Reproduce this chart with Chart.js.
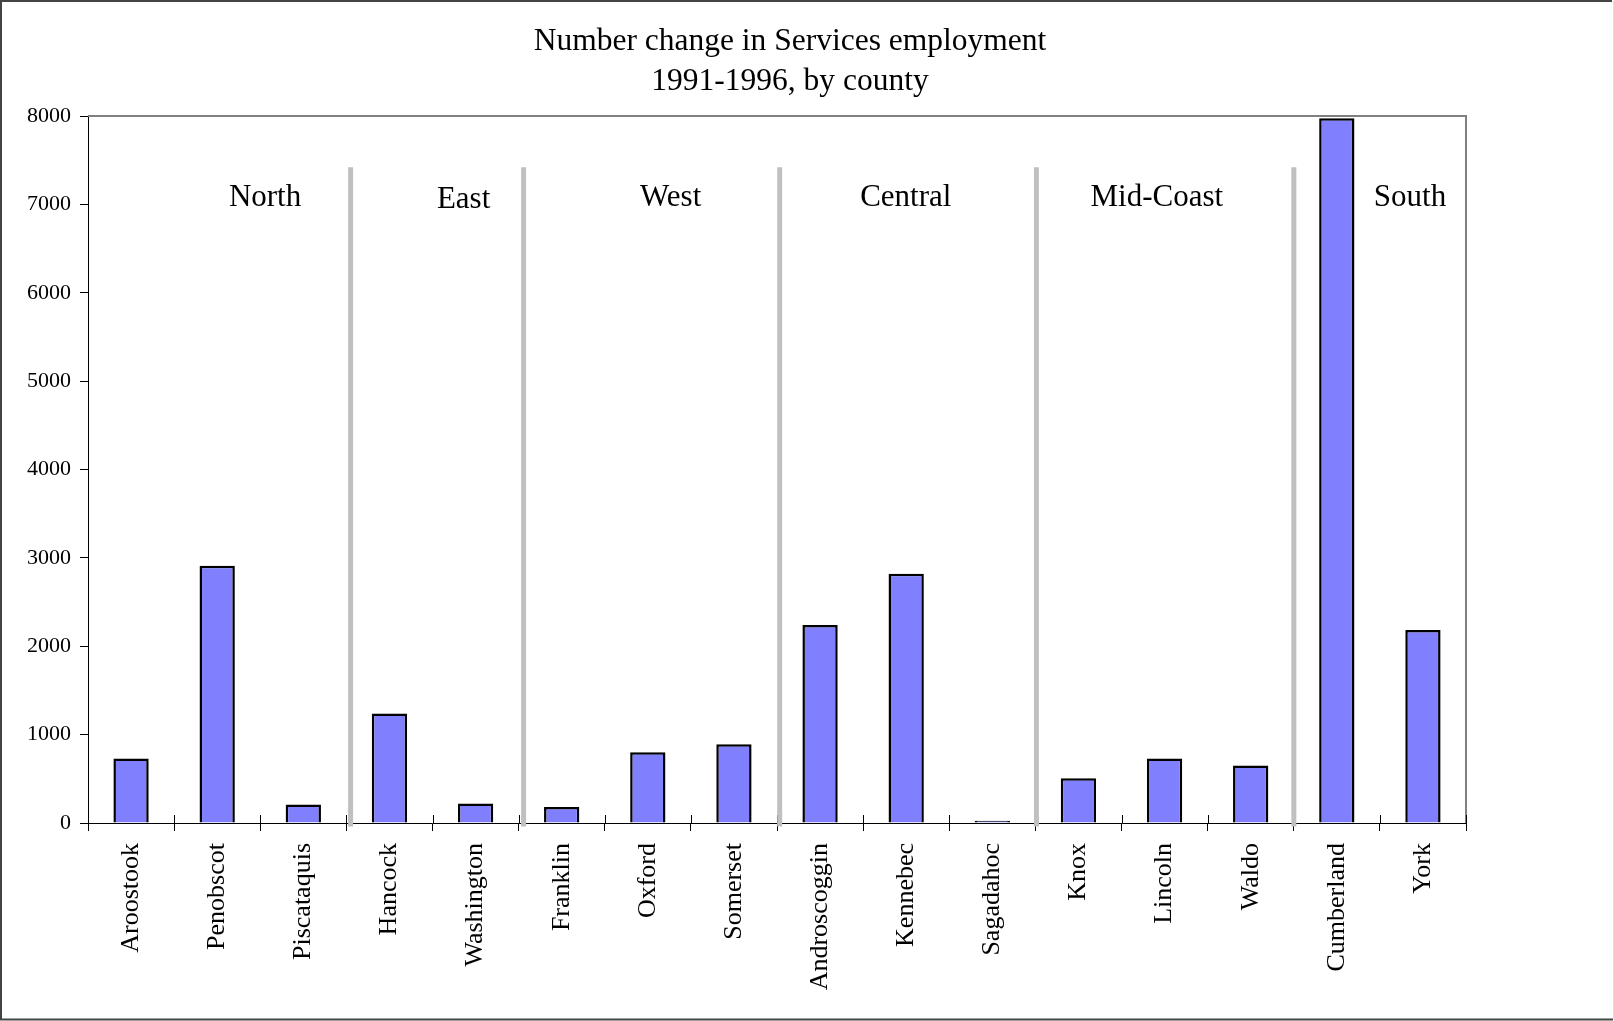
<!DOCTYPE html>
<html><head><meta charset="utf-8">
<script src="https://cdn.jsdelivr.net/npm/chart.js@4/dist/chart.umd.min.js"></script>
<style>html,body{margin:0;padding:0;background:#fff;overflow:hidden}#wrap{position:absolute;left:0;top:0;width:1614px;height:1021px}</style>
</head><body><div id="wrap"><canvas id="c" width="1614" height="1021"></canvas></div>
<script>
const counties = ['Aroostook','Penobscot','Piscataquis','Hancock','Washington','Franklin','Oxford','Somerset','Androscoggin','Kennebec','Sagadahoc','Knox','Lincoln','Waldo','Cumberland','York'];
const changes = [730, 2910, 210, 1240, 220, 180, 800, 890, 2240, 2820, 25, 505, 730, 650, 7975, 2185];
const yTicks = [0, 1000, 2000, 3000, 4000, 5000, 6000, 7000, 8000];
const regionNames = ['North','East','West','Central','Mid-Coast','South'];
const titleLines = ['Number change in Services employment', '1991-1996, by county'];

// layout helpers (positions in category-index units / pixels), kept separate from data
const regionLabelX = [1.556, 3.861, 6.265, 8.995, 11.91, 14.85];
const regionLabelBaseline = [206, 208, 206, 206, 206, 206];
const separatorX = [2.549, 4.558, 7.531, 10.512, 13.501];
const FONT = "'Liberation Serif', 'Times New Roman', serif";

const decor = {
  id: 'decor',
  beforeDraw(chart) {
    const ctx = chart.ctx;
    ctx.save();
    ctx.fillStyle = '#fff';
    ctx.fillRect(0, 0, chart.width, chart.height);
    ctx.restore();
  },
  afterDraw(chart) {
    const ctx = chart.ctx, a = chart.chartArea;
    const xs = chart.scales.x, ys = chart.scales.y;
    ctx.save();
    // outer border
    ctx.strokeStyle = '#444';
    ctx.lineWidth = 2;
    ctx.beginPath();
    ctx.moveTo(1612, 1); ctx.lineTo(1, 1); ctx.lineTo(1, 1019.5); ctx.lineTo(1613, 1019.5);
    ctx.stroke();
    ctx.strokeStyle = '#ddd';
    ctx.lineWidth = 1;
    ctx.beginPath(); ctx.moveTo(1613.5, 1); ctx.lineTo(1613.5, 1019); ctx.stroke();
    // plot frame top/right
    ctx.strokeStyle = '#808080';
    ctx.lineWidth = 2;
    ctx.beginPath();
    ctx.moveTo(a.left, a.top); ctx.lineTo(a.right, a.top); ctx.lineTo(a.right, a.bottom);
    ctx.stroke();
    // inward portion of category ticks
    ctx.strokeStyle = '#000';
    ctx.lineWidth = 1;
    ctx.beginPath();
    for (let i = 0; i <= counties.length; i++) {
      const px = Math.round(xs.getPixelForValue(i - 0.5)) + 0.5;
      ctx.moveTo(px, a.bottom - 8); ctx.lineTo(px, a.bottom);
    }
    ctx.stroke();
    // grey region separators
    ctx.strokeStyle = '#c0c0c0';
    ctx.lineWidth = 5;
    const topPx = ys.getPixelForValue(7420);
    separatorX.forEach(v => {
      const px = xs.getPixelForValue(v);
      ctx.beginPath(); ctx.moveTo(px, topPx); ctx.lineTo(px, a.bottom + 3.5); ctx.stroke();
    });
    // region labels
    ctx.fillStyle = '#000';
    ctx.textAlign = 'center';
    ctx.textBaseline = 'alphabetic';
    ctx.font = '31px ' + FONT;
    regionNames.forEach((n, i) => {
      ctx.fillText(n, xs.getPixelForValue(regionLabelX[i]), regionLabelBaseline[i]);
    });
    // title
    ctx.font = '31.5px ' + FONT;
    ctx.fillText(titleLines[0], 790, 50);
    ctx.fillText(titleLines[1], 790, 90);
    ctx.restore();
  }
};

new Chart(document.getElementById('c'), {
  type: 'bar',
  data: {
    labels: counties,
    datasets: [{
      data: changes,
      backgroundColor: '#8080ff',
      borderColor: '#000',
      borderWidth: 2.5,
      borderSkipped: 'bottom',
      barPercentage: 0.41,
      categoryPercentage: 1
    }]
  },
  options: {
    responsive: false,
    animation: false,
    devicePixelRatio: 1,
    layout: { padding: { top: 116, right: 148, left: 0, bottom: 0 } },
    plugins: { legend: { display: false }, title: { display: false }, tooltip: { enabled: false } },
    scales: {
      x: {
        type: 'category',
        offset: true,
        grid: { offset: true, drawOnChartArea: false, drawTicks: true, tickLength: 8, color: '#000', lineWidth: 1 },
        border: { color: '#000', width: 1 },
        ticks: { maxRotation: 90, minRotation: 90, autoSkip: false, padding: 12, color: '#000', font: { family: FONT, size: 26 } },
        afterFit(s) { s.height = 198; }
      },
      y: {
        min: 0, max: 8000,
        afterBuildTicks(s) { s.ticks = yTicks.map(v => ({ value: v })); },
        grid: { drawOnChartArea: false, drawTicks: true, tickLength: 8, color: '#000', lineWidth: 1 },
        border: { color: '#000', width: 1 },
        ticks: { padding: 9, color: '#000', font: { family: FONT, size: 22 }, callback: v => String(v) },
        afterFit(s) { s.width = 88; }
      }
    }
  },
  plugins: [decor]
});
</script>
</body></html>
